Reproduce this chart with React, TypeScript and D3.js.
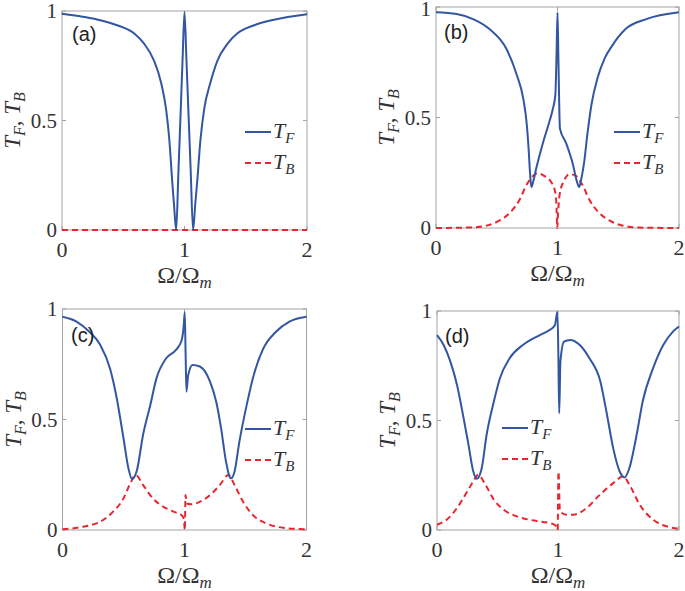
import React from 'react';
import * as d3 from 'd3';

type P = [number, number];

const xTickValues = [0, 1, 2];
const yTickValues = [0, 0.5, 1];
const xTickLabels = ['0', '1', '2'];
const yTickLabels = ['0', '0.5', '1'];
const panelLabels = ['(a)', '(b)', '(c)', '(d)'];

// Panel (a)
const aTF: P[] = [
  [0, 0.988], [0.18, 0.973], [0.32, 0.957], [0.45, 0.935], [0.59, 0.897], [0.67, 0.851],
  [0.75, 0.775], [0.81, 0.67], [0.85, 0.55], [0.875, 0.42], [0.9, 0.22], [0.915, 0.11], [0.932, 0.0],
  [0.95, 0.26], [0.97, 0.56], [0.985, 0.79], [1.0, 0.995], [1.015, 0.79], [1.03, 0.57], [1.05, 0.28],
  [1.07, 0.0], [1.088, 0.12], [1.105, 0.23], [1.13, 0.41], [1.16, 0.55], [1.21, 0.67], [1.27, 0.775],
  [1.35, 0.85], [1.43, 0.897], [1.57, 0.935], [1.73, 0.96], [2.0, 0.985],
];
const aTB: P[] = [[0, 0.0], [1, 0.0], [2, 0.0]];

// Panel (b)
const bTF: P[] = [
  [0, 0.976], [0.17, 0.968], [0.31, 0.944], [0.44, 0.9], [0.58, 0.81], [0.66, 0.7], [0.72, 0.58],
  [0.745, 0.48], [0.762, 0.36], [0.775, 0.24], [0.785, 0.185], [0.8, 0.21], [0.825, 0.27], [0.88, 0.385],
  [0.93, 0.475], [0.96, 0.535], [0.982, 0.6], [0.992, 0.78], [1.0, 0.975], [1.008, 0.75], [1.02, 0.45],
  [1.07, 0.385], [1.126, 0.29], [1.16, 0.21], [1.178, 0.185], [1.195, 0.22], [1.22, 0.3], [1.245, 0.42],
  [1.28, 0.56], [1.33, 0.68], [1.39, 0.77], [1.45, 0.825], [1.56, 0.9], [1.73, 0.945], [2.0, 0.976],
];
const bTB: P[] = [
  [0, 0.0], [0.31, 0.003], [0.44, 0.014], [0.52, 0.033], [0.61, 0.07], [0.69, 0.13], [0.74, 0.19],
  [0.8, 0.236], [0.84, 0.248], [0.89, 0.236], [0.95, 0.206], [0.975, 0.176], [0.99, 0.12], [0.998, 0.0],
  [1.005, 0.07], [1.016, 0.146], [1.05, 0.21], [1.1, 0.244], [1.15, 0.236], [1.21, 0.19], [1.26, 0.13],
  [1.34, 0.07], [1.43, 0.033], [1.54, 0.01], [1.67, 0.002], [2.0, 0.0],
];

// Panel (c)
const cTF: P[] = [
  [0, 0.965], [0.115, 0.943], [0.22, 0.897], [0.31, 0.837], [0.39, 0.73], [0.44, 0.61], [0.5, 0.415],
  [0.54, 0.28], [0.57, 0.23], [0.61, 0.27], [0.66, 0.43], [0.72, 0.566], [0.77, 0.686], [0.85, 0.777],
  [0.93, 0.815], [0.975, 0.855], [0.993, 0.92], [1.002, 0.985], [1.009, 0.8], [1.016, 0.626],
  [1.03, 0.7], [1.066, 0.747], [1.126, 0.74], [1.21, 0.67], [1.26, 0.58], [1.3, 0.46], [1.34, 0.31],
  [1.38, 0.234], [1.41, 0.264], [1.45, 0.4], [1.51, 0.566], [1.56, 0.686], [1.645, 0.82], [1.75, 0.897],
  [1.86, 0.943], [2.0, 0.965],
];
const cTB: P[] = [
  [0, 0.003], [0.17, 0.015], [0.31, 0.038], [0.415, 0.083], [0.5, 0.143], [0.55, 0.204], [0.6, 0.249],
  [0.66, 0.204], [0.74, 0.143], [0.825, 0.106], [0.91, 0.083], [0.975, 0.068], [0.995, 0.05],
  [1.003, 0.0], [1.008, 0.158], [1.02, 0.12], [1.06, 0.116], [1.126, 0.128], [1.21, 0.158],
  [1.29, 0.204], [1.36, 0.249], [1.41, 0.204], [1.48, 0.128], [1.56, 0.068], [1.67, 0.03],
  [1.81, 0.01], [2.0, 0.003],
];

// Panel (d)
const dTF: P[] = [
  [0, 0.89], [0.055, 0.845], [0.11, 0.77], [0.165, 0.663], [0.22, 0.51], [0.26, 0.39], [0.3, 0.267],
  [0.33, 0.234], [0.37, 0.283], [0.41, 0.435], [0.47, 0.587], [0.52, 0.693], [0.6, 0.784], [0.71, 0.845],
  [0.85, 0.89], [0.93, 0.913], [0.975, 0.936], [0.995, 0.997], [1.003, 0.8], [1.01, 0.533],
  [1.02, 0.77], [1.05, 0.86], [1.1, 0.868], [1.18, 0.845], [1.26, 0.784], [1.35, 0.678], [1.4, 0.541],
  [1.456, 0.374], [1.51, 0.267], [1.55, 0.24], [1.59, 0.283], [1.65, 0.435], [1.7, 0.587],
  [1.786, 0.739], [1.87, 0.845], [1.95, 0.906], [2.0, 0.929],
];
const dTB: P[] = [
  [0, 0.024], [0.08, 0.047], [0.165, 0.1], [0.25, 0.176], [0.3, 0.222], [0.34, 0.252], [0.4, 0.207],
  [0.47, 0.138], [0.55, 0.093], [0.66, 0.062], [0.8, 0.043], [0.96, 0.027], [0.99, 0.012],
  [0.997, 0.0], [1.004, 0.267], [1.016, 0.085], [1.07, 0.07], [1.126, 0.07], [1.236, 0.1],
  [1.346, 0.161], [1.456, 0.214], [1.54, 0.245], [1.59, 0.207], [1.676, 0.115], [1.786, 0.047],
  [1.896, 0.017], [2.0, 0.006],
];

const seriesTF = [aTF, bTF, cTF, dTF];
const seriesTB = [aTB, bTB, cTB, dTB];

const layout = [
  { x0: 62, x1: 307, y0: 11, y1: 230, lx: 245, ly: 132, px: 72, py: 41 },
  { x0: 436, x1: 679, y0: 7, y1: 228, lx: 614, ly: 132, px: 444, py: 39 },
  { x0: 62.5, x1: 306.5, y0: 309, y1: 530, lx: 245, ly: 429, px: 71, py: 342 },
  { x0: 437, x1: 679, y0: 311, y1: 530, lx: 502, ly: 428, px: 445, py: 343 },
];

const BLUE = '#3356a3';
const RED = '#e8262e';
const AXIS = '#a3a3a3';
const TXT = '#333333';
const SERIF = '"Liberation Serif", "Times New Roman", serif';
const SANS = '"Liberation Sans", Arial, sans-serif';

function Panel({ i }: { i: number }) {
  const L = layout[i];
  const x = d3.scaleLinear().domain([0, 2]).range([L.x0, L.x1]);
  const y = d3.scaleLinear().domain([0, 1]).range([L.y1, L.y0]);
  const line = d3
    .line<P>()
    .x((d) => x(d[0]))
    .y((d) => y(d[1]))
    .curve(d3.curveMonotoneX);
  const tl = 4;
  const cx = (L.x0 + L.x1) / 2;
  const cy = (L.y0 + L.y1) / 2;
  return (
    <g>
      <rect x={L.x0} y={L.y0} width={L.x1 - L.x0} height={L.y1 - L.y0} fill="none" stroke={AXIS} strokeWidth={1} />
      {xTickValues.map((v, k) => (
        <g key={'xt' + k}>
          <line x1={x(v)} x2={x(v)} y1={L.y1} y2={L.y1 - tl} stroke={AXIS} />
          <line x1={x(v)} x2={x(v)} y1={L.y0} y2={L.y0 + tl} stroke={AXIS} />
          <text x={x(v)} y={L.y1 + 27} textAnchor="middle" fontFamily={SERIF} fontSize={22} fill={TXT}>
            {xTickLabels[k]}
          </text>
        </g>
      ))}
      {yTickValues.map((v, k) => (
        <g key={'yt' + k}>
          <line x1={L.x0} x2={L.x0 + tl} y1={y(v)} y2={y(v)} stroke={AXIS} />
          <line x1={L.x1} x2={L.x1 - tl} y1={y(v)} y2={y(v)} stroke={AXIS} />
          <text x={L.x0 - 5} y={Math.max(y(v), 9)} dy="0.35em" textAnchor="end" fontFamily={SERIF} fontSize={21} fill={TXT}>
            {yTickLabels[k]}
          </text>
        </g>
      ))}
      <path d={line(seriesTB[i]) || ''} fill="none" stroke={RED} strokeWidth={2} strokeDasharray="6,4" />
      <path d={line(seriesTF[i]) || ''} fill="none" stroke={BLUE} strokeWidth={2} />
      <text x={L.px} y={L.py} fontFamily={SANS} fontSize={20} fill="#222">
        {panelLabels[i]}
      </text>
      {/* legend */}
      <line x1={L.lx} x2={L.lx + 26} y1={L.ly} y2={L.ly} stroke={BLUE} strokeWidth={2} />
      <text x={L.lx + 28} y={L.ly + 6} fontFamily={SERIF} fontSize={22} fill={TXT}>
        <tspan fontStyle="italic">T</tspan>
        <tspan fontStyle="italic" fontSize={15} dy={5}>F</tspan>
      </text>
      <line x1={L.lx} x2={L.lx + 26} y1={L.ly + 31} y2={L.ly + 31} stroke={RED} strokeWidth={2} strokeDasharray="6,4" />
      <text x={L.lx + 28} y={L.ly + 37} fontFamily={SERIF} fontSize={22} fill={TXT}>
        <tspan fontStyle="italic">T</tspan>
        <tspan fontStyle="italic" fontSize={15} dy={5}>B</tspan>
      </text>
      {/* x label */}
      <text x={cx} y={L.y1 + 53} textAnchor="middle" fontFamily={SERIF} fontSize={24} fill={TXT}>
        <tspan>Ω/Ω</tspan>
        <tspan fontStyle="italic" fontSize={17} dy={5}>m</tspan>
      </text>
      {/* y label */}
      <text
        transform={`translate(${L.x0 - 42},${cy}) rotate(-90)`}
        textAnchor="middle"
        fontFamily={SERIF}
        fontSize={23}
        fill={TXT}
      >
        <tspan fontStyle="italic">T</tspan>
        <tspan fontStyle="italic" fontSize={16} dy={5}>F</tspan>
        <tspan dy={-5}>, </tspan>
        <tspan fontStyle="italic">T</tspan>
        <tspan fontStyle="italic" fontSize={16} dy={5}>B</tspan>
      </text>
    </g>
  );
}

export default function App() {
  return (
    <svg
      width={685}
      height={591}
      style={{ position: 'absolute', left: 0, top: 0, background: '#fff' }}
    >
      <rect x={0} y={0} width={685} height={591} fill="#fff" />
      {[0, 1, 2, 3].map((i) => (
        <Panel key={i} i={i} />
      ))}
    </svg>
  );
}
